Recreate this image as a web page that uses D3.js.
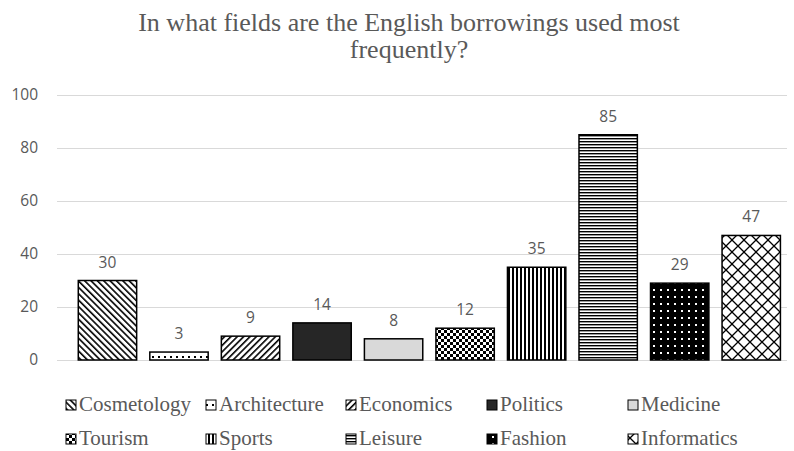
<!DOCTYPE html>
<html>
<head>
<meta charset="utf-8">
<script src="https://cdn.jsdelivr.net/npm/d3@7"></script>
<style>
  html, body { margin: 0; padding: 0; background: #fff; }
  svg { display: block; }
</style>
</head>
<body>
<svg id="chart" width="794" height="451"></svg>
<script>
// Survey results: fields where English borrowings are used most frequently
const categories = ["Cosmetology", "Architecture", "Economics", "Politics", "Medicine",
                    "Tourism", "Sports", "Leisure", "Fashion", "Informatics"];
const values = [30, 3, 9, 14, 8, 12, 35, 85, 29, 47];
const yTicks = [0, 20, 40, 60, 80, 100];
const titleLines = ["In what fields are the English borrowings used most", "frequently?"];
// fill pattern id for each category
const fills = ["p-dndiag", "p-dots", "p-updiag", "solid-dark", "solid-light",
               "p-checker", "p-vert", "p-horiz", "p-inv-dots", "p-cross"];

const svg = d3.select("#chart");
const grey = "#595959";

// ---- pattern definitions ----
const defs = svg.append("defs");
function pat(id, w, h, transform) {
  const p = defs.append("pattern").attr("id", id)
    .attr("patternUnits", "userSpaceOnUse").attr("width", w).attr("height", h);
  if (transform) p.attr("patternTransform", transform);
  return p;
}
// downward diagonal "\"
let p = pat("p-dndiag", 4.5, 4.5, "rotate(-45)");
p.append("rect").attr("width", 4.5).attr("height", 4.5).attr("fill", "#fff");
p.append("rect").attr("width", 1.6).attr("height", 4.5).attr("fill", "#000");
// upward diagonal "/"
p = pat("p-updiag", 4.5, 4.5, "rotate(45)");
p.append("rect").attr("width", 4.5).attr("height", 4.5).attr("fill", "#fff");
p.append("rect").attr("width", 1.6).attr("height", 4.5).attr("fill", "#000");
// sparse dots
p = pat("p-dots", 6, 6);
p.append("rect").attr("width", 6).attr("height", 6).attr("fill", "#fff");
p.append("rect").attr("x", 2).attr("y", 2).attr("width", 2).attr("height", 2).attr("fill", "#000");
// checkerboard
p = pat("p-checker", 6, 6);
p.append("rect").attr("width", 6).attr("height", 6).attr("fill", "#fff");
p.append("rect").attr("width", 3).attr("height", 3).attr("fill", "#000");
p.append("rect").attr("x", 3).attr("y", 3).attr("width", 3).attr("height", 3).attr("fill", "#000");
// vertical lines
p = pat("p-vert", 4, 4);
p.append("rect").attr("width", 4).attr("height", 4).attr("fill", "#fff");
p.append("rect").attr("width", 2).attr("height", 4).attr("fill", "#000");
// horizontal lines
p = pat("p-horiz", 3, 3);
p.append("rect").attr("width", 3).attr("height", 3).attr("fill", "#fff");
p.append("rect").attr("width", 3).attr("height", 1.4).attr("fill", "#000");
// white dots on black
p = pat("p-inv-dots", 7, 7);
p.append("rect").attr("width", 7).attr("height", 7).attr("fill", "#000");
p.append("rect").attr("x", 2).attr("y", 2).attr("width", 2).attr("height", 2).attr("fill", "#fff");
// diagonal crosshatch
p = pat("p-cross", 12, 12);
p.append("rect").attr("width", 12).attr("height", 12).attr("fill", "#fff");
p.append("path").attr("d", "M0,0L12,12M12,0L0,12M-1,11L1,13M11,-1L13,1")
  .attr("stroke", "#000").attr("stroke-width", 1.3);

function fillFor(i) {
  const f = fills[i];
  if (f === "solid-dark") return "#262626";
  if (f === "solid-light") return "#d9d9d9";
  return `url(#${f})`;
}

// ---- scales ----
const x = d3.scaleBand().domain(categories).range([71.7, 787])
  .paddingInner(0.184).paddingOuter(0.092);
const y = d3.scaleLinear().domain([0, 100]).range([360, 95]);

// ---- title ----
const title = svg.append("text").attr("text-anchor", "middle")
  .attr("font-family", "'Liberation Serif', 'Times New Roman', serif")
  .attr("font-size", 26).attr("fill", grey);
titleLines.forEach((t, i) => {
  title.append("tspan").attr("x", 409).attr("y", 31 + i * 27).text(t);
});

// ---- gridlines and y axis ----
const yAxis = d3.axisLeft(y).tickValues(yTicks).tickSize(0).tickPadding(0);
const gy = svg.append("g").attr("transform", "translate(38,0)").call(yAxis);
gy.select(".domain").remove();
gy.selectAll("text").attr("fill", grey)
  .attr("font-family", "'Open Sans', 'Liberation Sans', sans-serif")
  .attr("font-size", 15.5);

svg.append("g").selectAll("line").data(yTicks).join("line")
  .attr("x1", 57).attr("x2", 787)
  .attr("y1", d => Math.round(y(d)) + 0.5).attr("y2", d => Math.round(y(d)) + 0.5)
  .attr("stroke", "#d9d9d9").attr("stroke-width", 1);

// ---- bars ----
svg.append("g").selectAll("rect").data(values).join("rect")
  .attr("x", (d, i) => x(categories[i]))
  .attr("y", d => y(d))
  .attr("width", x.bandwidth())
  .attr("height", d => y(0) - y(d))
  .attr("fill", (d, i) => fillFor(i))
  .attr("stroke", "#000").attr("stroke-width", 1.5);

// ---- value labels ----
svg.append("g").selectAll("text").data(values).join("text")
  .attr("x", (d, i) => x(categories[i]) + x.bandwidth() / 2)
  .attr("y", d => y(d) - 13)
  .attr("text-anchor", "middle")
  .attr("font-family", "'Open Sans', 'Liberation Sans', sans-serif")
  .attr("font-size", 15.5).attr("fill", grey)
  .text(d => d);

// ---- legend ----
const legend = svg.append("g");
const colX = [66, 206, 346, 487, 628];
const rowY = [411, 445];
categories.forEach((c, i) => {
  const lx = colX[i % 5], ly = rowY[Math.floor(i / 5)];
  const g = legend.append("g");
  g.append("rect").attr("x", lx).attr("y", ly - 11).attr("width", 10).attr("height", 10)
    .attr("fill", fillFor(i)).attr("stroke", "#000").attr("stroke-width", 1);
  g.append("text").attr("x", lx + 13).attr("y", ly)
    .attr("font-family", "'Liberation Serif', 'Times New Roman', serif")
    .attr("font-size", 21).attr("fill", grey).text(c);
});
</script>
</body>
</html>
